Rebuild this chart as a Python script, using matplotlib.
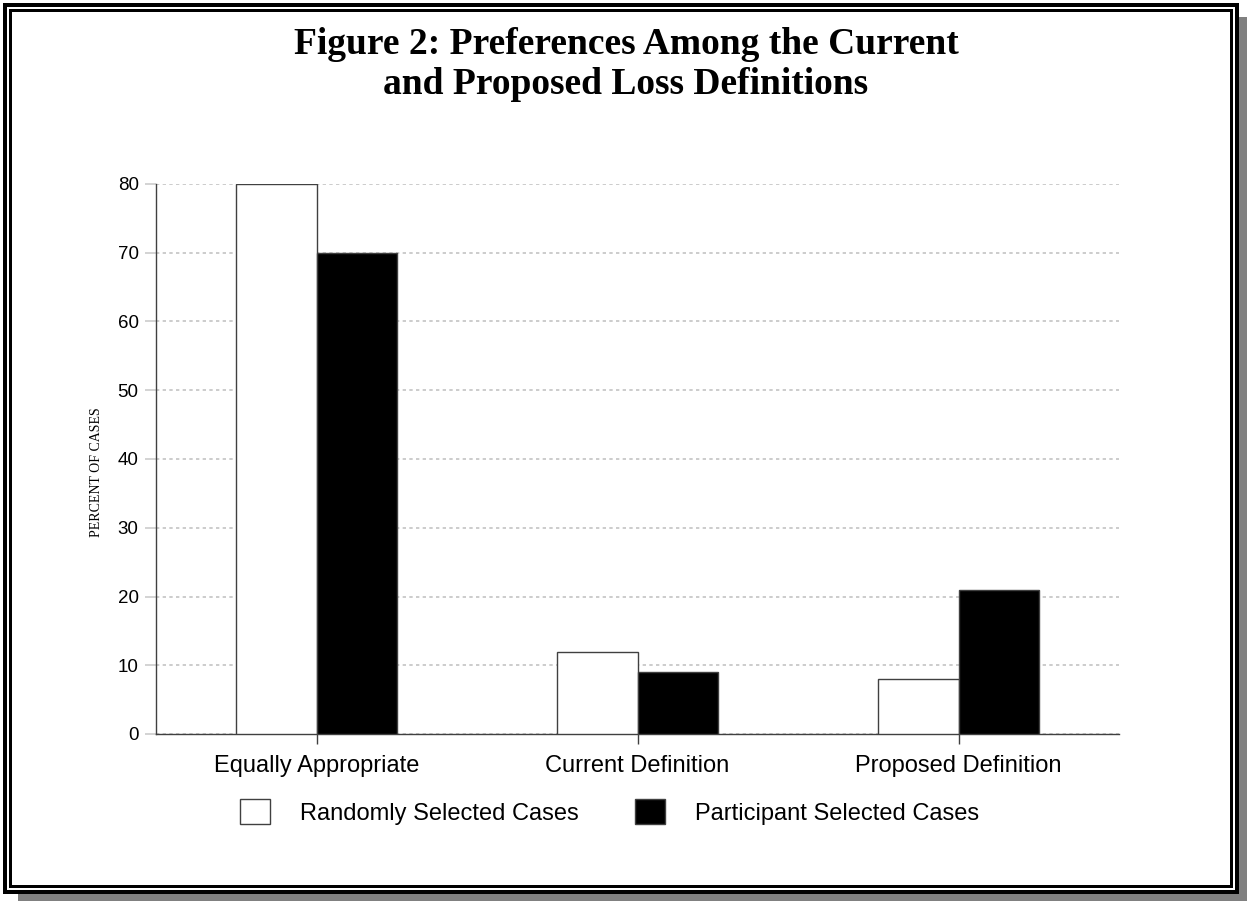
import matplotlib
matplotlib.use("Agg")
import matplotlib.pyplot as plt
from matplotlib.patches import Rectangle, Patch
import numpy as np

categories = ["Equally Appropriate", "Current Definition", "Proposed Definition"]
series_names = ["Randomly Selected Cases", "Participant Selected Cases"]
randomly_selected = [80, 12, 8]
participant_selected = [70, 9, 21]
y_ticks = [0, 10, 20, 30, 40, 50, 60, 70, 80]
title_lines = ["Figure 2: Preferences Among the Current", "and Proposed Loss Definitions"]
y_label = "PERCENT OF CASES"

W, H = 1247, 901
fig = plt.figure(figsize=(W / 100, H / 100), dpi=100)
fig.patch.set_facecolor("white")


def px_rect(x0, y0, x1, y1, color, z):
    r = Rectangle((x0 / W, 1 - y1 / H), (x1 - x0) / W, (y1 - y0) / H,
                  transform=fig.transFigure, facecolor=color, edgecolor="none",
                  zorder=z)
    fig.add_artist(r)


# shadow and double border
px_rect(1239, 17, W, H, "#808080", -20)
px_rect(18, 894, W, H, "#808080", -20)
px_rect(3, 3, 1239, 894, "black", -19)
px_rect(7, 7, 1235, 890, "white", -18)
px_rect(9, 9, 1233, 888, "black", -17)
px_rect(12, 12, 1230, 885, "white", -16)

ax = fig.add_axes([156 / W, 1 - 734 / H, (1119 - 156) / W, (734 - 184) / H])
ax.set_facecolor("none")

x = np.arange(len(categories))
bw = 0.25
edge = "#404040"
ax.bar(x - bw / 2, randomly_selected, width=bw, color="white", edgecolor=edge,
       linewidth=1.0, zorder=3, label=series_names[0])
ax.bar(x + bw / 2, participant_selected, width=bw, color="black", edgecolor=edge,
       linewidth=1.0, zorder=3, label=series_names[1])

ax.set_xlim(-0.5, len(categories) - 0.5)
ax.set_ylim(0, 80)
ax.set_yticks(y_ticks)
ax.set_xticks(x)
ax.set_xticklabels(categories, fontfamily="Liberation Sans", fontsize=17)
ax.set_yticklabels([str(v) for v in y_ticks], fontfamily="Liberation Sans",
                   fontsize=13.5)

ax.set_axisbelow(True)
ax.yaxis.grid(True, color="#c4c4c4", linestyle=(0, (2, 2)), linewidth=1.2)
ax.xaxis.grid(False)

for s in ["top", "right"]:
    ax.spines[s].set_visible(False)
for s in ["left", "bottom"]:
    ax.spines[s].set_color(edge)
    ax.spines[s].set_linewidth(1.0)

ax.tick_params(axis="y", direction="out", length=8, width=1.2, color="#cccccc",
               pad=4.5, labelcolor="black")
ax.tick_params(axis="x", direction="out", length=7, width=1.0, color=edge,
               pad=8, labelcolor="black")

# y label
fig.text(97 / W, 1 - 472 / H, y_label, rotation=90, ha="center", va="center",
         fontfamily="Liberation Serif", fontsize=10)

# title
fig.text(626 / W, 1 - 45 / H, title_lines[0], ha="center", va="center",
         fontfamily="Liberation Serif", fontweight="bold", fontsize=27)
fig.text(626 / W, 1 - 85 / H, title_lines[1], ha="center", va="center",
         fontfamily="Liberation Serif", fontweight="bold", fontsize=27)

handles = [Patch(facecolor="white", edgecolor=edge, linewidth=1.0),
           Patch(facecolor="black", edgecolor=edge, linewidth=1.0)]
leg = fig.legend(handles, series_names, loc="center",
                 bbox_to_anchor=(609.5 / W, 1 - 812 / H), ncol=2, frameon=False,
                 prop={"family": "Liberation Sans", "size": 17},
                 handlelength=1.27, handleheight=1.27, handletextpad=1.27,
                 columnspacing=2.35)

fig.savefig("out.png", dpi=100, facecolor="white")
